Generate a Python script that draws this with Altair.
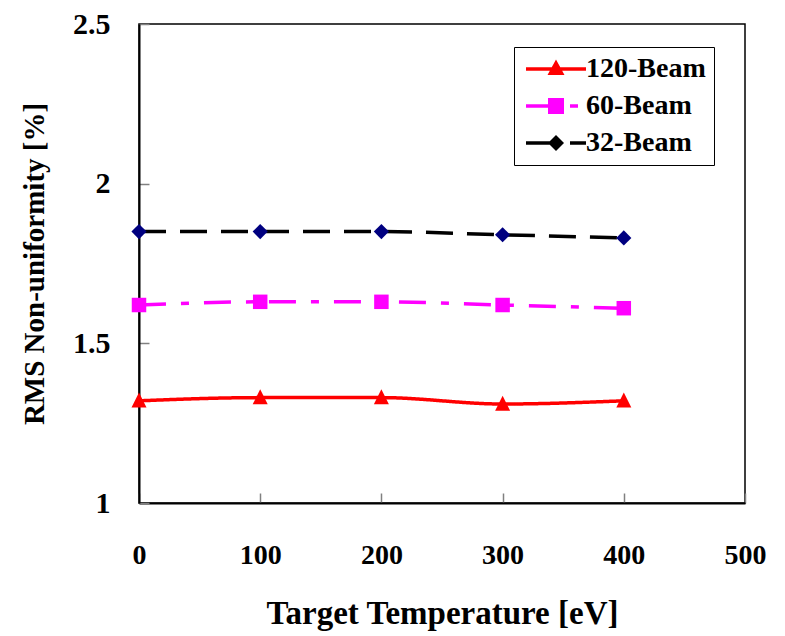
import altair as alt
import pandas as pd

temps = [0, 100, 200, 300, 400]
beam120 = [1.32, 1.33, 1.33, 1.31, 1.32]
beam60 = [1.62, 1.63, 1.63, 1.62, 1.61]
beam32 = [1.85, 1.85, 1.85, 1.84, 1.83]
series_names = ["120-Beam", "60-Beam", "32-Beam"]
line_colors = ["#ff0000", "#ff00ff", "#000000"]
marker_colors = ["#ff0000", "#ff00ff", "#000080"]
dashes = [[1, 0], [27, 15, 8, 15], [27, 14]]

rows = []
for name, vals in zip(series_names, [beam120, beam60, beam32]):
    for t, v in zip(temps, vals):
        rows.append({"T": t, "RMS": v, "series": name})
df = pd.DataFrame(rows)

FONT = "Liberation Serif"

xs = alt.Scale(domain=[0, 500], nice=False)
ys = alt.Scale(domain=[1, 2.5], nice=False, zero=False)

x_enc = alt.X("T:Q", scale=xs, title="Target Temperature [eV]",
              axis=alt.Axis(values=[0, 100, 200, 300, 400, 500], format="d", labelFlush=False,
                            labelFontSize=28, titleFontSize=33, labelPadding=48, titlePadding=28))
y_enc = alt.Y("RMS:Q", scale=ys, title="RMS Non-uniformity [%]",
              axis=alt.Axis(values=[1, 1.5, 2, 2.5], labelExpr="datum.value", labelFlush=False,
                            labelFontSize=30, titleFontSize=29, labelPadding=39, titlePadding=23))

tri_path = "M0,-1.1L1,0.9L-1,0.9Z"
shapes = [tri_path, "square", "diamond"]
sizes = [225, 210, 230]

layers = []
for name, col, dash in zip(series_names, line_colors, dashes):
    layers.append(
        alt.Chart(df).transform_filter(alt.datum.series == name).mark_line(
            strokeWidth=3.5, interpolate="monotone", color=col, strokeDash=dash
        ).encode(x=x_enc, y=y_enc)
    )
for name, shp, sz, col in zip(series_names, shapes, sizes, marker_colors):
    layers.append(
        alt.Chart(df).transform_filter(alt.datum.series == name).mark_point(
            shape=shp, filled=True, opacity=1, size=sz, color=col
        ).encode(x="T:Q", y="RMS:Q")
    )

# Legend glyph paths: line segment(s) plus marker, in unit coords (scaled by 10px)
p120 = "M-1,-0.17L5,-0.17L5,0.17L-1,0.17Z M2,-0.95L2.85,0.6L1.15,0.6Z"
p60 = "M-1,-0.17L1.4,-0.17L1.4,0.17L-1,0.17Z M1.2,-0.8L2.8,-0.8L2.8,0.8L1.2,0.8Z M3.4,-0.17L4.2,-0.17L4.2,0.17L3.4,0.17Z"
p32 = "M-1,-0.17L1.4,-0.17L1.4,0.17L-1,0.17Z M2,-0.8L2.8,0L2,0.8L1.2,0Z M3.4,-0.17L5,-0.17L5,0.17L3.4,0.17Z"

legend_layer = alt.Chart(df).transform_filter("false").mark_point(filled=True, size=400, opacity=1).encode(
    x="T:Q", y="RMS:Q",
    shape=alt.Shape("series:N", scale=alt.Scale(domain=series_names, range=[p120, p60, p32]),
                    legend=alt.Legend(title=None)),
    fill=alt.Fill("series:N", scale=alt.Scale(domain=series_names, range=["#ff0000", "#ff00ff", "#000000"]),
                  legend=alt.Legend(
                      title=None, orient="none", legendX=375, legendY=23,
                      labelFont=FONT, labelFontSize=28, labelFontWeight="bold", labelColor="black",
                      symbolSize=400, labelOffset=36, symbolOpacity=1, symbolStrokeWidth=0,
                      rowPadding=9, padding=8, strokeColor="black", fillColor="white")),
)
layers.append(legend_layer)

chart = alt.layer(*layers).properties(
    width=606, height=479,
    autosize=alt.AutoSizeParams(type="none"),
    padding={"left": 131, "top": 16, "right": 30, "bottom": 128},
).configure_axis(
    labelFont=FONT, labelFontWeight="bold", labelColor="black",
    titleFont=FONT, titleFontWeight="bold", titleColor="black",
    grid=False, domainColor="black", domainWidth=2, tickColor="#808080", tickWidth=1.5,
    tickSize={"expr": "-10"},
).configure_view(stroke="black", strokeWidth=1.5)

chart.save("out.html", embed_options={"renderer": "svg", "actions": False})
